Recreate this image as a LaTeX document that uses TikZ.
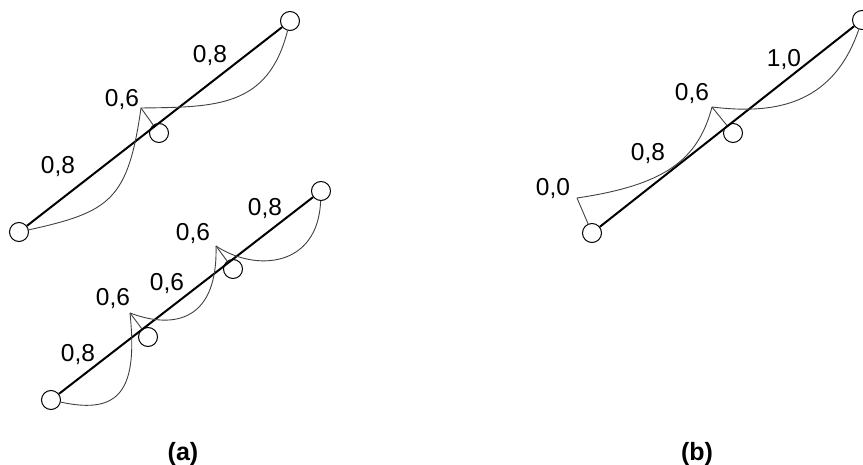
\documentclass[tikz,border=0pt]{standalone}
\usepackage{fontspec}
\setmainfont{Liberation Sans}
\begin{document}
\begin{tikzpicture}[x=1pt,y=-1pt,
  jt/.style={circle,draw=black,line width=1pt,minimum size=19pt,inner sep=0pt},
  beam/.style={line width=2pt,black},
  cable/.style={line width=0.9pt,black!75},
  lbl/.style={font=\fontsize{24.5}{26}\selectfont,inner sep=0pt},
  captxt/.style={font=\fontsize{25}{27}\selectfont\bfseries,inner sep=0pt,anchor=base}]
\path[use as bounding box,clip] (0,0) rectangle (863,465);
% ---------- (a) upper ----------
\node[jt] (a1) at (19,232) {};
\node[jt] (a2) at (159,133) {};
\node[jt] (a4) at (290,21) {};
\coordinate (p1) at (141,108);
\draw[beam] (a1) -- (a4);
\draw[cable] (p1) -- (a2);
\draw[cable] (p1) .. controls (215,107) and (268,108) .. (a4);
\draw[cable] (p1) .. controls (128,200) and (110,212) .. (a1);
\node[lbl] (la1) at (210,56) {0,8};
\node[lbl] (la2) at (122,100) {0,6};
\node[lbl] (la3) at (58,167) {0,8};
% ---------- (a) lower ----------
\node[jt] (b1) at (51,400) {};
\node[jt] (b2) at (148,337) {};
\node[jt] (b3) at (233,269) {};
\node[jt] (b4) at (321,191) {};
\coordinate (q1) at (130,313);
\coordinate (q2) at (216,246);
\draw[beam] (b1) -- (b4);
\draw[cable] (q1) -- (b2);
\draw[cable] (q2) -- (b3);
\draw[cable] (q1) .. controls (138,390) and (120,415) .. (b1);
\draw[cable] (q1) .. controls (175,330) and (218,320) .. (q2);
\draw[cable] (q2) .. controls (255,272) and (318,268) .. (b4);
\node[lbl] (lb1) at (78,355) {0,8};
\node[lbl] (lb2) at (113,299) {0,6};
\node[lbl] (lb3) at (167,284) {0,6};
\node[lbl] (lb4) at (193,234) {0,6};
\node[lbl] (lb5) at (265,209) {0,8};
% ---------- (b) ----------
\node[jt] (c1) at (592,233) {};
\node[jt] (c2) at (733,133) {};
\node[jt] (c3) at (862,20) {};
\coordinate (r1) at (712,107);
\coordinate (r0) at (577,198);
\draw[beam] (c1) -- (c3);
\draw[cable] (r1) -- (c2);
\draw[cable] (r1) .. controls (770,114) and (832,108) .. (c3);
\draw[cable] (r1) .. controls (698,160) and (665,185) .. (r0);
\draw[cable] (r0) -- (c1);
\node[lbl] (lc1) at (784,60) {1,0};
\node[lbl] (lc2) at (692,94) {0,6};
\node[lbl] (lc3) at (648,154) {0,8};
\node[lbl] (lc4) at (553,189) {0,0};
% ---------- captions ----------
\node[captxt] (capa) at (183,460) {(a)};
\node[captxt] (capb) at (697,460) {(b)};
\end{tikzpicture}
\end{document}
